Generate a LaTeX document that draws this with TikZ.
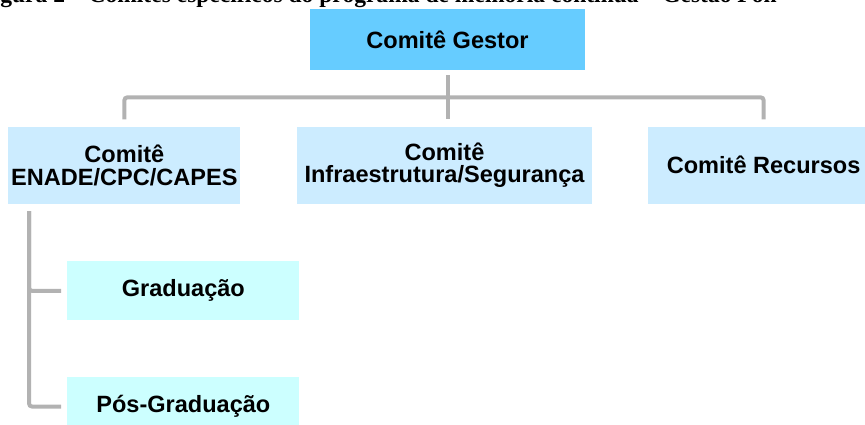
\documentclass[tikz,border=0pt]{standalone}
\usepackage{fontspec}
\setmainfont{Liberation Serif}
\setsansfont{Liberation Sans}
\usepackage{xcolor}
\usepackage{tikz}
\usetikzlibrary{positioning}

\definecolor{birutua}{HTML}{66CCFF}
\definecolor{birumuda}{HTML}{CCECFF}
\definecolor{cyanmuda}{HTML}{CCFFFF}
\definecolor{abu}{HTML}{B2B2B2}

\begin{document}
\begin{tikzpicture}[x=0.02cm, y=-0.02cm,
		kotak/.style={inner sep=1pt, align=center, font=\sffamily\bfseries\fontsize{13.4}{13}\selectfont},
		utama/.style={kotak, fill=birutua, minimum width=5.5cm, minimum height=1.22cm},
		komite/.style={kotak, fill=birumuda, minimum height=1.54cm},
		sub/.style={kotak, fill=cyanmuda, minimum width=4.64cm, minimum height=1.18cm},
		garis/.style={draw=abu, line width=0.08cm, rounded corners=0.06cm}]
				\useasboundingbox (0,0) rectangle (865,425);
				\clip (0,0) rectangle (865,425);

				% judul gambar (terpotong di atas)
				\node (judul) [anchor=base west, inner sep=0, font=\rmfamily\bfseries\fontsize{13.4}{16}\selectfont] at (-21,3) {Figura 2 – Comitês específicos do programa de melhoria contínua – Gestão Pon};

				% kotak-kotak komite
				\node (gestor) [utama] at (447.5,39.5) {Comitê Gestor};                              % posisi acuan
				\node (infra) [komite, minimum width=5.9cm, below=1.12cm of gestor, xshift=-0.06cm] {Comitê\\Infraestrutura/Segurança};
				\node (enade) [komite, minimum width=4.64cm, left=1.12cm of infra] {Comitê\\ENADE/CPC/CAPES};
				\node (recursos) [komite, minimum width=4.64cm, right=1.1cm of infra] {Comitê Recursos};
				\node (grad) [sub, below=1.14cm of enade, xshift=1.18cm] {Graduação};              % di bawah enade
				\node (pos) [sub, below=1.12cm of grad] {Pós-Graduação};                            % di bawah grad

				% garis penghubung
				\coordinate (bus) at ([yshift=-0.54cm]gestor.south);
				\coordinate (batang) at ([xshift=0.42cm, yshift=-0.14cm]enade.south west);
				\path [garis, shorten <=0.1cm, shorten >=0.14cm] (gestor.south) -- (gestor.south |- infra.north);
				\path [garis, shorten <=0.14cm, shorten >=0.14cm] (enade.north) |- (bus) -| (recursos.north);
				\path [garis, shorten >=0.12cm] (batang) |- (grad.west);
				\path [garis, shorten >=0.12cm] (batang) |- (pos.west);
			\end{tikzpicture}
\end{document}
